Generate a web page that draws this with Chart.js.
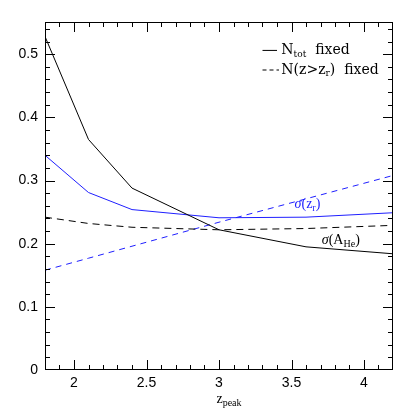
<!DOCTYPE html>
<html><head><meta charset="utf-8">
<script src="https://cdn.jsdelivr.net/npm/chart.js@4"></script>
<style>html,body{margin:0;padding:0;background:#fff}#wrap{width:415px;height:415px}</style>
</head><body><div id="wrap"><canvas id="c" width="415" height="415"></canvas></div>
<script>
const zPeak = [1.8, 2.1, 2.4, 3.0, 3.6, 4.2];
const aHeNtot = [0.528, 0.365, 0.288, 0.222, 0.195, 0.184];
const zrNtot = [0.340, 0.281, 0.254, 0.241, 0.242, 0.249];
const aHeNz = [0.242, 0.232, 0.226, 0.222, 0.224, 0.229];
const zrNz = [0.158, 0.177, 0.196, 0.234, 0.271, 0.308];
const xTicks = [2, 2.5, 3, 3.5, 4];
const yTicks = [0, 0.1, 0.2, 0.3, 0.4, 0.5];

const pts = a => a.map((v, i) => ({x: zPeak[i], y: v}));
const SERIF = '"Liberation Serif", "DejaVu Serif", serif';
const DSERIF = '"DejaVu Serif", serif';
const SANS = '"Liberation Sans", Arial, sans-serif';

function rich(ctx, x, y, segs, color, align, fam, base, small) {
  fam = fam || SERIF; base = base || 14; small = small || 10;
  const fontOf = s => (s.it ? 'italic ' : '') + (s.sub ? small : base) + 'px ' + fam;
  let w = 0;
  segs.forEach(s => { ctx.font = fontOf(s); w += ctx.measureText(s.t).width; });
  let cx = align === 'center' ? x - w / 2 : x;
  ctx.fillStyle = color;
  ctx.textBaseline = 'middle';
  ctx.textAlign = 'left';
  segs.forEach(s => {
    ctx.font = fontOf(s);
    ctx.fillText(s.t, cx, s.sub ? y + 4 : y);
    cx += ctx.measureText(s.t).width;
  });
}

const deco = {
  id: 'deco',
  afterDraw(chart) {
    const ctx = chart.ctx, xs = chart.scales.x, ys = chart.scales.y, ca = chart.chartArea;
    ctx.save();
    ctx.strokeStyle = '#000'; ctx.lineWidth = 1;
    ctx.strokeRect(ca.left + 0.5, ca.top + 0.5, ca.right - ca.left - 1, ca.bottom - ca.top - 1);
    ctx.beginPath();
    for (let i = 18; i <= 42; i++) {
      const v = i / 10, px = Math.round(xs.getPixelForValue(v)) + 0.5;
      if (px < ca.left + 1 || px > ca.right - 1) continue;
      const L = (i % 5 === 0) ? 10 : 5;
      ctx.moveTo(px, ca.bottom); ctx.lineTo(px, ca.bottom - L);
      ctx.moveTo(px, ca.top); ctx.lineTo(px, ca.top + L);
    }
    for (let i = 0; i <= 27; i++) {
      const v = i / 50, py = Math.round(ys.getPixelForValue(v)) + 0.5;
      if (py < ca.top + 1 || py > ca.bottom - 1) continue;
      const L = (i % 5 === 0) ? 10 : 5;
      ctx.moveTo(ca.left, py); ctx.lineTo(ca.left + L, py);
      ctx.moveTo(ca.right, py); ctx.lineTo(ca.right - L, py);
    }
    ctx.stroke();
    // legend
    const lx1 = xs.getPixelForValue(3.30), lx2 = xs.getPixelForValue(3.40), tx = xs.getPixelForValue(3.43);
    const ly1 = ys.getPixelForValue(0.506), ly2 = ys.getPixelForValue(0.475);
    ctx.beginPath(); ctx.moveTo(lx1, ly1); ctx.lineTo(lx2, ly1); ctx.stroke();
    ctx.setLineDash([4, 3]);
    ctx.beginPath(); ctx.moveTo(lx1, ly2); ctx.lineTo(lx2 + 2, ly2); ctx.stroke();
    ctx.setLineDash([]);
    rich(ctx, tx, ly1, [{t: 'N'}, {t: 'tot', sub: true}, {t: '  fixed'}], '#000', 'left', DSERIF, 14, 9);
    rich(ctx, tx, ly2, [{t: 'N(z>z'}, {t: 'r', sub: true}, {t: ')  fixed'}], '#000', 'left', DSERIF, 14, 9);
    // curve labels
    rich(ctx, xs.getPixelForValue(3.61), ys.getPixelForValue(0.262), [{t: 'σ', it: true}, {t: '(z'}, {t: 'r', sub: true}, {t: ')'}], '#1f1fff', 'center');
    rich(ctx, xs.getPixelForValue(3.84), ys.getPixelForValue(0.205), [{t: 'σ', it: true}, {t: '(A'}, {t: 'He', sub: true}, {t: ')'}], '#000', 'center');
    // x title
    rich(ctx, (ca.left + ca.right) / 2 + 10, 399, [{t: 'z'}, {t: 'peak', sub: true}], '#000', 'center');
    ctx.restore();
  }
};

new Chart(document.getElementById('c'), {
  type: 'scatter',
  data: {
    datasets: [
      {data: pts(aHeNtot), borderColor: '#000', borderWidth: 1, showLine: true, pointRadius: 0, tension: 0},
      {data: pts(zrNtot), borderColor: '#1f1fff', borderWidth: 1, showLine: true, pointRadius: 0, tension: 0},
      {data: pts(aHeNz), borderColor: '#000', borderWidth: 1, borderDash: [7, 5], showLine: true, pointRadius: 0, tension: 0},
      {data: pts(zrNz), borderColor: '#1f1fff', borderWidth: 1, borderDash: [6, 5], showLine: true, pointRadius: 0, tension: 0}
    ]
  },
  options: {
    responsive: false, animation: false, devicePixelRatio: 1,
    layout: {padding: {top: 22, right: 22, left: 0, bottom: 0}},
    plugins: {legend: {display: false}, tooltip: {enabled: false}},
    scales: {
      x: {
        type: 'linear', min: 1.8, max: 4.2,
        afterFit(s) { s.height = 45; },
        afterBuildTicks(s) { s.ticks = xTicks.map(v => ({value: v})); },
        grid: {display: false, drawTicks: false}, border: {display: false},
        ticks: {color: '#000', font: {family: SANS, size: 14}, padding: 5, maxRotation: 0,
                callback: v => String(v)}
      },
      y: {
        type: 'linear', min: 0, max: 0.551,
        afterFit(s) { s.width = 45; },
        afterBuildTicks(s) { s.ticks = yTicks.map(v => ({value: v})); },
        grid: {display: false, drawTicks: false}, border: {display: false},
        ticks: {color: '#000', font: {family: SANS, size: 14}, padding: 7,
                callback: v => v === 0 ? '0' : v.toFixed(1)}
      }
    }
  },
  plugins: [deco]
});
</script></body></html>
